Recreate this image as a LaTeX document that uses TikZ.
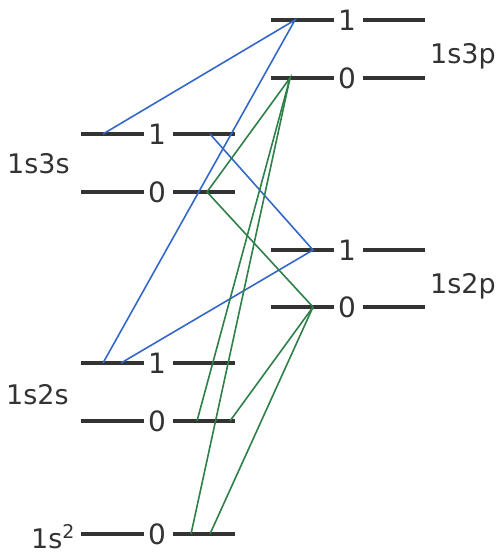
\documentclass[tikz,border=0pt]{standalone}
\usepackage{fontspec}
\setmainfont{DejaVu Sans}
\usepackage{xcolor}
\definecolor{levgray}{HTML}{333333}
\definecolor{transblue}{HTML}{3468C6}
\definecolor{transgreen}{HTML}{2E8048}
\begin{document}
\begin{tikzpicture}[x=1pt, y=-1pt,
    lev/.style={draw=levgray, line width=4pt},
    num/.style={text=levgray, font=\fontsize{28}{28}\selectfont, inner sep=0pt},
    term/.style={text=levgray, font=\fontsize{27}{27}\selectfont, inner sep=0pt, anchor=base west},
    blueline/.style={draw=transblue, line width=1.6pt},
    greenline/.style={draw=transgreen, line width=1.6pt},
  ]
  \useasboundingbox (0,0) rectangle (495,556);

  % levels: name / centre x / y / J
  \foreach \nm/\cx/\cy/\j in {tp1/347/20/1, tp0/347/78/0, ts1/157/134/1, ts0/157/192/0,
      sp1/347/250/1, sp0/347/307/0, ss1/157/363/1, ss0/157/421/0, gs0/157/534/0} {
    \node[num] (\nm) at (\cx,\cy) {\j};
    \draw[lev] (\cx-76,\cy) -- (\cx-13,\cy) (\cx+16,\cy) -- (\cx+78,\cy);
  }

  % term labels
  \node[term] (t3p) at (430,64) {1s3p};
  \node[term] (t3s) at (7,174) {1s3s};
  \node[term] (t2p) at (430,293) {1s2p};
  \node[term] (t2s) at (6,404) {1s2s};
  \node[term] (t1s) at (31,548) {1s\textsuperscript{2}};

  % end points on the levels
  \coordinate (tp1a) at (295,20);
  \coordinate (tp0a) at (290,78);
  \coordinate (ts1a) at (103,134);
  \coordinate (ts1b) at (210,134);
  \coordinate (ts0a) at (207,192);
  \coordinate (sp1a) at (313,250);
  \coordinate (sp0a) at (313,307);
  \coordinate (ss1a) at (103,363);
  \coordinate (ss1b) at (121,363);
  \coordinate (ss0a) at (197,421);
  \coordinate (ss0b) at (230,421);
  \coordinate (gs0a) at (191,534);
  \coordinate (gs0b) at (210,534);

  % triplet transitions
  \draw[blueline] (ts1a) -- (tp1a) -- (ss1a);
  \draw[blueline] (ts1b) -- (sp1a) -- (ss1b);

  % singlet transitions
  \draw[greenline] (ts0a) -- (tp0a) -- (ss0a);
  \draw[greenline] (tp0a) -- (gs0a);
  \draw[greenline] (ts0a) -- (sp0a) -- (ss0b);
  \draw[greenline] (sp0a) -- (gs0b);
\end{tikzpicture}
\end{document}
